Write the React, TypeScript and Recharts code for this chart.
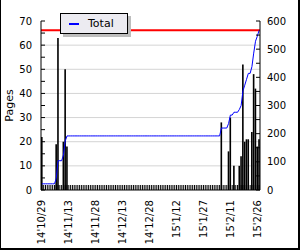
import {
	Bar,
	CartesianGrid,
	ComposedChart,
	Legend,
	Line,
	ReferenceLine,
	XAxis,
	YAxis,
} from "recharts";

// pages read per day, 2014/10/29 .. 2015/2/27
const pages = [
	22, 0, 0, 0, 0, 0, 0, 0, 19, 63,
	0, 0, 20, 50, 18, 0, 0, 0, 0, 0,
	0, 0, 0, 0, 0, 0, 0, 0, 0, 0,
	0, 0, 0, 0, 0, 0, 0, 0, 0, 0,
	0, 0, 0, 0, 0, 0, 0, 0, 0, 0,
	0, 0, 0, 0, 0, 0, 0, 0, 0, 0,
	0, 0, 0, 0, 0, 0, 0, 0, 0, 0,
	0, 0, 0, 0, 0, 0, 0, 0, 0, 0,
	0, 0, 0, 0, 0, 0, 0, 0, 0, 0,
	0, 0, 0, 0, 0, 0, 0, 0, 0, 0,
	28, 0, 0, 0, 16, 30, 0, 10, 0, 0,
	10, 14, 52, 20, 21, 21, 0, 24, 48, 42,
	18, 21,
];

const startDate = new Date(2014, 9, 29);
const goalPages = 567;
const leftTicks = [0, 5, 10, 15, 20, 25, 30, 35, 40, 45, 50, 55, 60, 65, 70];
const rightTicks = [0, 50, 100, 150, 200, 250, 300, 350, 400, 450, 500, 550, 600];
const gridValues = [10, 20, 30, 40, 50, 60];
const labelEvery = 15;

const dayLabel = (i: number) => {
	const d = new Date(startDate);
	d.setDate(d.getDate() + i);
	return `${String(d.getFullYear()).slice(2)}'${d.getMonth() + 1}/${d.getDate()}`;
};

let running = 0;
const data = pages.map((p, i) => {
	running += p;
	return { day: dayLabel(i), pages: p, total: running };
});

const DayTick = ({ x, y, index, payload }: any) => (
	<g>
		<line x1={x} x2={x} y1={y} y2={y - 5} stroke="#000" />
		{index % labelEvery === 0 && (
			<text
				x={x}
				y={y + 10}
				dy="0.35em"
				textAnchor="end"
				fontSize={10}
				fill="#000"
				transform={`rotate(-90 ${x} ${y + 10})`}
			>
				{payload.value}
			</text>
		)}
	</g>
);

const LeftTick = ({ x, y, payload }: any) => (
	<g>
		<line x1={x} x2={x + 4} y1={y} y2={y} stroke="#000" />
		{payload.value % 10 === 0 && (
			<text x={x - 9} y={y} dy="0.35em" textAnchor="end" fontSize={10} fill="#000">
				{payload.value}
			</text>
		)}
	</g>
);

const RightTick = ({ x, y, payload }: any) => (
	<g>
		<line x1={x} x2={x - 4} y1={y} y2={y} stroke="#000" />
		{payload.value % 100 === 0 && (
			<text x={x + 7} y={y} dy="0.35em" textAnchor="start" fontSize={10} fill="#000">
				{payload.value}
			</text>
		)}
	</g>
);

const PagesLabel = ({ viewBox }: any) => {
	const cy = viewBox.y + viewBox.height / 2;
	return (
		<text
			x={9}
			y={cy}
			dy="0.35em"
			textAnchor="middle"
			fontSize={11}
			fill="#000"
			transform={`rotate(-90 9 ${cy})`}
		>
			Pages
		</text>
	);
};

const LegendBox = () => (
	<div
		style={{
			width: 66,
			height: 19,
			border: "1px solid #000",
			background: "#ecebf1",
			boxShadow: "3px 3px 0 #bdbdbd",
			position: "relative",
			fontSize: 11,
		}}
	>
		<div
			style={{
				position: "absolute",
				left: 8,
				top: 9,
				width: 10,
				height: 2,
				background: "#0000ff",
			}}
		/>
		<span style={{ position: "absolute", left: 27, top: 3, lineHeight: "13px" }}>
			Total
		</span>
	</div>
);

export default function App() {
	return (
		<div
			style={{
				position: "absolute",
				left: 0,
				top: 0,
				width: 300,
				height: 250,
				background: "#fff",
				fontFamily: "DejaVu Sans",
			}}
		>
			<ComposedChart
				width={300}
				height={250}
				data={data}
				margin={{ top: 21, right: 2, bottom: 0, left: 10 }}
			>
				<CartesianGrid
					vertical={false}
					stroke="#d4d4d4"
					yAxisId="left"
					horizontalValues={gridValues}
				/>
				<XAxis
					dataKey="day"
					interval={0}
					height={60}
					tickSize={0}
					tickMargin={0}
					tickLine={false}
					axisLine={{ stroke: "#000" }}
					tick={<DayTick />}
				/>
				<YAxis
					yAxisId="left"
					domain={[0, 70]}
					ticks={leftTicks}
					interval={0}
					width={31}
					tickSize={0}
					tickMargin={0}
					tickLine={false}
					axisLine={{ stroke: "#000" }}
					tick={<LeftTick />}
					label={<PagesLabel />}
				/>
				<YAxis
					yAxisId="right"
					orientation="right"
					domain={[0, 600]}
					ticks={rightTicks}
					interval={0}
					width={38}
					tickSize={0}
					tickMargin={0}
					tickLine={false}
					axisLine={{ stroke: "#000" }}
					tick={<RightTick />}
				/>
				<ReferenceLine
					yAxisId="right"
					y={goalPages}
					stroke="#ff0000"
					strokeWidth={2}
				/>
				<Bar
					yAxisId="left"
					dataKey="pages"
					fill="#000"
					barSize={2}
					isAnimationActive={false}
				/>
				<Line
					yAxisId="right"
					dataKey="total"
					name="Total"
					stroke="#0000ff"
					strokeWidth={1}
					dot={false}
					activeDot={false}
					isAnimationActive={false}
				/>
				<Legend
					verticalAlign="middle"
					align="center"
					content={<LegendBox />}
					wrapperStyle={{ left: 60, top: 13, width: "auto", height: "auto" }}
				/>
			</ComposedChart>
			<div
				style={{
					position: "absolute",
					left: 0,
					top: 0,
					width: 300,
					height: 250,
					boxSizing: "border-box",
					borderLeft: "1px solid #000",
					borderRight: "2px solid #000",
					borderBottom: "2px solid #000",
					pointerEvents: "none",
				}}
			/>
		</div>
	);
}
